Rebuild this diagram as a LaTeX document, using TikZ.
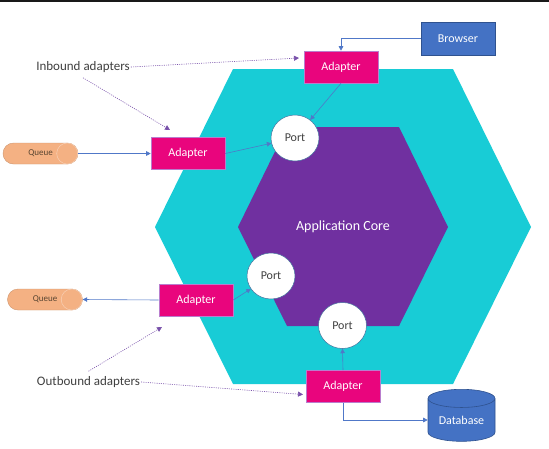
\documentclass[tikz,border=0pt]{standalone}
\usepackage{fontspec}
\setmainfont{Carlito}
\usetikzlibrary{arrows.meta,shapes.geometric,calc}
\definecolor{cyanhex}{RGB}{24,204,214}
\definecolor{corepurple}{RGB}{112,48,160}
\definecolor{adaptmag}{RGB}{233,5,125}
\definecolor{adaptborder}{RGB}{185,125,205}
\definecolor{offblue}{RGB}{68,114,196}
\definecolor{offblueb}{RGB}{47,82,143}
\definecolor{queueor}{RGB}{244,177,131}
\definecolor{queuetxt}{RGB}{90,70,50}
\definecolor{conncol}{RGB}{80,120,200}
\definecolor{notecol}{RGB}{120,80,170}
\definecolor{txtgray}{RGB}{64,64,64}
\definecolor{portborder}{RGB}{65,113,156}
\tikzset{
  adapterbox/.style={rectangle, fill=adaptmag, draw=adaptborder, line width=0.6pt,
    minimum width=74pt, minimum height=32pt, text=white, inner sep=0pt,
    font=\fontsize{12}{13}\selectfont},
  bluebox/.style={rectangle, fill=offblue, draw=offblueb, line width=0.6pt,
    minimum width=74pt, minimum height=33pt, text=white, inner sep=0pt,
    font=\fontsize{12}{13}\selectfont},
  portnode/.style={ellipse, fill=white, draw=portborder, line width=0.5pt,
    minimum width=48pt, minimum height=46pt, inner sep=0pt, text=txtgray,
    font=\fontsize{12}{13}\selectfont},
  queuebox/.style={rectangle, rounded corners=10.5pt, fill=queueor, draw=queueor!85!black,
    line width=0.4pt, minimum width=75pt, minimum height=21pt, inner sep=0pt,
    text=queuetxt, font=\fontsize{9}{10}\selectfont},
  notetext/.style={text=txtgray, inner sep=1pt, font=\fontsize{13}{15}\selectfont},
  conn/.style={draw=conncol, line width=0.6pt, -{Triangle[width=4.5pt,length=4.5pt]}},
  noteline/.style={draw=notecol, line width=0.6pt, dash pattern=on 1pt off 1.2pt,
    -{Triangle[width=5pt,length=5pt]}},
}
\begin{document}
\begin{tikzpicture}[x=1pt,y=-1pt]
\useasboundingbox (0,0) rectangle (549,448);
\fill[white] (0,0) rectangle (549,448);
\fill[black!90] (0,0) rectangle (549,2);
% hexagons
\fill[cyanhex] (155,227) -- (233,69) -- (453,69) -- (531,227) -- (453,384) -- (233,384) -- cycle;
\fill[corepurple] (238,227) -- (287,127) -- (399,127) -- (448,227) -- (399,326) -- (287,326) -- cycle;
\node[text=white, font=\fontsize{14}{16}\selectfont] (core) at (343,227) {Application Core};
% nodes
\node[bluebox] (browser) at (458,38.5) {Browser};
\node[adapterbox] (ad1) at (341,67) {Adapter};
\node[adapterbox] (ad2) at (188,153.5) {Adapter};
\node[adapterbox] (ad3) at (196,300) {Adapter};
\node[adapterbox] (ad4) at (343,386.5) {Adapter};
\node[portnode] (p1) at (295,138) {Port};
\node[portnode] (p2) at (271,276) {Port};
\node[portnode] (p3) at (342.5,325.5) {Port};
\node[queuebox] (q1) at (40.5,153.5) {Queue\hspace{12pt}};
\node[queuebox] (q2) at (45,299.5) {Queue\hspace{12pt}};
\draw[queueor!60!white, line width=0.5pt] ([xshift=-11pt]q1.east) circle (10.5pt);
\draw[queueor!60!white, line width=0.5pt] ([xshift=-11pt]q2.east) circle (10.5pt);
\node[cylinder, shape border rotate=90, aspect=0.4, fill=offblue, draw=offblueb,
  line width=0.6pt, minimum width=67pt, minimum height=52pt, inner sep=0pt, text=white,
  font=\fontsize{12}{13}\selectfont] (db) at (461.5,420) {Database};
\node[notetext] (inb) at (83,67) {Inbound adapters};
\node[notetext] (outb) at (88.5,382) {Outbound adapters};
% blue connectors
\draw[conn] (browser.west) -| (ad1.north);
\draw[conn] (ad1.south) -- (p1);
\draw[conn] (q1.east) -- (ad2.west);
\draw[conn] (ad2.east) -- (p1);
\draw[conn] (ad3.east) -- (p2);
\draw[conn] (ad3.west) -- (q2.east);
\draw[conn] (ad4.north) -- (p3.south);
\draw[conn] (ad4.south) |- (db.west);
% annotation arrows
\coordinate (tipA) at (299,58);
\coordinate (tipB) at (170,130);
\coordinate (tipC) at (162,327);
\coordinate (tipD) at (303,394.5);
\draw[noteline] (inb.east) -- (tipA);
\draw[noteline] ($(inb.south)+(0,4)$) -- (tipB);
\draw[noteline] ($(outb.north)+(0,-4)$) -- (tipC);
\draw[noteline] (outb.east) -- (tipD);
\end{tikzpicture}
\end{document}
